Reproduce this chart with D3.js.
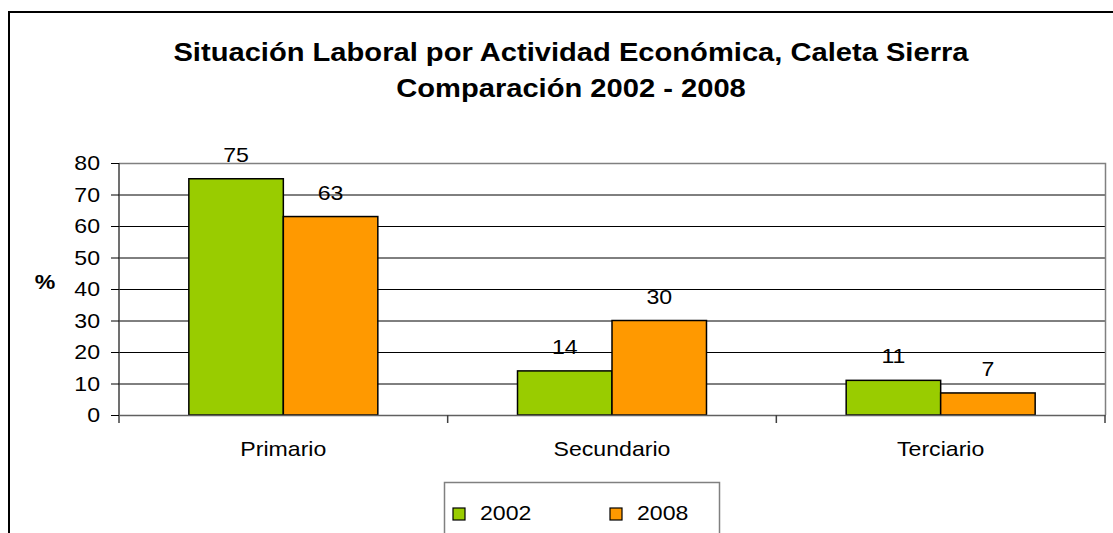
<!DOCTYPE html>
<html><head><meta charset="utf-8">
<script src="https://cdn.jsdelivr.net/npm/d3@7"></script>
<style>body{margin:0;background:#fff}svg{display:block}text{font-family:"Liberation Sans",Arial,sans-serif;fill:#000}</style>
</head><body>
<svg id="c" width="1113" height="533"></svg>
<script>
const titleLines = ["Situación Laboral por Actividad Económica, Caleta Sierra", "Comparación 2002 - 2008"];
const categories = ["Primario", "Secundario", "Terciario"];
const seriesNames = ["2002", "2008"];
const values2002 = [75, 14, 11];
const values2008 = [63, 30, 7];
const yTicks = [0, 10, 20, 30, 40, 50, 60, 70, 80];
const yLabel = "%";
const colors = ["#99CC00", "#FF9900"];

const svg = d3.select("#c");
function stretchBy(sx){ return sel => sel.each(function(){ const l=this.getComputedTextLength(); d3.select(this).attr("textLength", l*sx).attr("lengthAdjust","spacingAndGlyphs"); }); }
const stretch = stretchBy(1.1);
const stretchT = stretchBy(1.12);
const FS = "21px";

// outer border
svg.append("rect").attr("x",9).attr("y",12).attr("width",1130).attr("height",560)
  .attr("fill","none").attr("stroke","#000").attr("stroke-width",2);

const L=119, R=1105, T=163, B=415;
const x = d3.scaleBand().domain(categories).range([L,R]).padding(0);
const xs = d3.scaleBand().domain(seriesNames).range([x.bandwidth()*0.2125, x.bandwidth()*0.7875]).padding(0);
const y = d3.scaleLinear().domain([0,80]).range([B,T]);

// title
svg.selectAll(".title").data(titleLines).join("text").attr("class","title")
  .attr("x",571).attr("y",(d,i)=>i===0?61:97).attr("text-anchor","middle")
  .style("font-size","26px").style("font-weight","bold").text(d=>d).call(stretchT);

// gridlines
svg.append("g").selectAll("line").data(yTicks.filter(v=>v>0 && v<80)).join("line")
  .attr("x1",L).attr("x2",R).attr("y1",d=>y(d)+0.5).attr("y2",d=>y(d)+0.5)
  .attr("stroke","#000").attr("stroke-width",1);
// plot border top/right
svg.append("path").attr("d",`M${L},${T+0.5}H${R+0.5}V${B}`).attr("fill","none").attr("stroke","#808080").attr("stroke-width",1.5);

// bars
const rows = categories.map((c,i)=>({cat:c, vals:[values2002[i], values2008[i]]}));
const g = svg.append("g");
rows.forEach(r=>{
  r.vals.forEach((v,j)=>{
    const bx = x(r.cat)+xs(seriesNames[j]);
    g.append("rect").attr("x",bx).attr("y",y(v)).attr("width",xs.bandwidth()).attr("height",y(0)-y(v))
      .attr("fill",colors[j]).attr("stroke","#000").attr("stroke-width",1.5);
    g.append("text").attr("x",bx+xs.bandwidth()/2).attr("y",y(v)-17).attr("text-anchor","middle")
      .style("font-size",FS).text(v).call(stretch);
  });
});

// y axis
const ya = svg.append("g").attr("transform",`translate(${L},0)`)
  .call(d3.axisLeft(y).tickValues(yTicks).tickSize(8).tickPadding(11).tickSizeOuter(0));
ya.select(".domain").attr("stroke","#404040").attr("stroke-width",1.5).attr("d",`M0,${T}V${B+8}`);
ya.selectAll(".tick line").attr("stroke","#000");
ya.selectAll(".tick text").style("font-size",FS).style("font-family","Liberation Sans, Arial").attr("fill","#000").call(stretch);

// x axis
const xa = svg.append("g").attr("transform",`translate(0,${B})`)
  .call(d3.axisBottom(x).tickSize(0).tickPadding(26).tickSizeOuter(0));
xa.select(".domain").attr("stroke","#606060").attr("stroke-width",1.5);
xa.selectAll(".tick text").style("font-size",FS).style("font-family","Liberation Sans, Arial").attr("fill","#000").call(stretch);
// category separator ticks
const seps = categories.map(c=>x(c)).concat([x(categories[categories.length-1])+x.bandwidth()]);
svg.append("g").selectAll("line").data(seps.slice(1)).join("line")
  .attr("x1",d=>d).attr("x2",d=>d).attr("y1",B).attr("y2",B+8).attr("stroke","#404040").attr("stroke-width",1.5);

// y label
svg.append("text").attr("x",45).attr("y",289).attr("text-anchor","middle")
  .style("font-size",FS).style("font-weight","bold").text(yLabel).call(stretch);

// legend
svg.append("rect").attr("x",444.5).attr("y",482.5).attr("width",275).attr("height",80)
  .attr("fill","#fff").attr("stroke","#808080").attr("stroke-width",1.5);
const lx = [453, 610];
seriesNames.forEach((s,i)=>{
  svg.append("rect").attr("x",lx[i]).attr("y",508).attr("width",12).attr("height",12)
    .attr("fill",colors[i]).attr("stroke","#000").attr("stroke-width",1.2);
  svg.append("text").attr("x",lx[i]+27).attr("y",520).style("font-size",FS).text(s).call(stretch);
});
</script>
</body></html>
